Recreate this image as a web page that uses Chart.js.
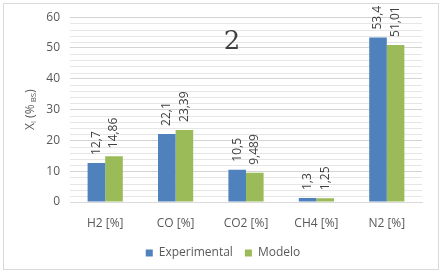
<!DOCTYPE html>
<html>
<head>
<meta charset="utf-8">
<script src="https://cdn.jsdelivr.net/npm/chart.js@4"></script>
<style>
  body { margin: 0; background: #fff; }
  #wrap { width: 445px; height: 271px; position: relative; }
</style>
</head>
<body>
<div id="wrap"><canvas id="chart" width="445" height="271"></canvas></div>
<script>
const categories = ['H2 [%]', 'CO [%]', 'CO2 [%]', 'CH4 [%]', 'N2 [%]'];
const experimental = [12.7, 22.1, 10.5, 1.3, 53.4];
const modelo = [14.86, 23.39, 9.489, 1.25, 51.01];
const experimentalLabels = ['12,7', '22,1', '10,5', '1,3', '53,4'];
const modeloLabels = ['14,86', '23,39', '9,489', '1,25', '51,01'];
const chartTitle = '2';

const FONT = '"Open Sans", "Liberation Sans", sans-serif';

// frame, minor gridlines, title "2", axis title with subscripts and the rotated value labels
const extras = {
  id: 'extras',
  beforeDraw(chart) {
    const ctx = chart.ctx;
    ctx.save();
    ctx.strokeStyle = '#d9d9d9';
    ctx.lineWidth = 1;
    ctx.strokeRect(3.5, 3.5, 435, 266);
    ctx.restore();
  },
  beforeDatasetsDraw(chart) {
    const ctx = chart.ctx;
    const area = chart.chartArea;
    const y = chart.scales.y;
    ctx.save();
    ctx.strokeStyle = '#e6e6e6';
    ctx.lineWidth = 1;
    for (let v = 2; v < 60; v += 2) {
      if (v % 10 === 0) continue;
      const py = Math.round(y.getPixelForValue(v)) + 0.5;
      ctx.beginPath();
      ctx.moveTo(area.left, py);
      ctx.lineTo(area.right, py);
      ctx.stroke();
    }
    ctx.restore();
  },
  afterDatasetsDraw(chart) {
    const ctx = chart.ctx;
    const area = chart.chartArea;
    ctx.save();

    // title inside plot
    ctx.fillStyle = '#404040';
    ctx.font = '26px "DejaVu Serif", "Liberation Serif", serif';
    ctx.textAlign = 'center';
    ctx.textBaseline = 'middle';
    ctx.fillText(chartTitle, 232, 42);

    // value labels
    const labelSets = [experimentalLabels, modeloLabels];
    ctx.font = '12px ' + FONT;
    ctx.fillStyle = '#404040';
    chart.data.datasets.forEach((ds, i) => {
      const meta = chart.getDatasetMeta(i);
      meta.data.forEach((bar, j) => {
        ctx.save();
        ctx.translate(bar.x, bar.y - 8);
        ctx.rotate(-Math.PI / 2);
        ctx.textAlign = 'left';
        ctx.textBaseline = 'middle';
        ctx.fillText(labelSets[i][j], 0, 0);
        ctx.restore();
      });
    });

    // y axis title: X_i (% _BS)
    ctx.save();
    ctx.translate(31, (area.top + area.bottom) / 2);
    ctx.rotate(-Math.PI / 2);
    ctx.fillStyle = '#595959';
    const parts = [
      ['X', 12, 0], ['i', 8, 3], [' (%', 12, 0], [' ', 8, 0], ['BS', 8, 3], [')', 12, 0]
    ];
    let total = 0;
    parts.forEach(p => { ctx.font = p[1] + 'px ' + FONT; total += ctx.measureText(p[0]).width; });
    let x = -total / 2;
    ctx.textBaseline = 'middle';
    ctx.textAlign = 'left';
    parts.forEach(p => {
      ctx.font = p[1] + 'px ' + FONT;
      ctx.fillText(p[0], x, p[2]);
      x += ctx.measureText(p[0]).width;
    });
    ctx.restore();

    ctx.restore();
  }
};

new Chart(document.getElementById('chart'), {
  type: 'bar',
  data: {
    labels: categories,
    datasets: [
      { label: 'Experimental', data: experimental, backgroundColor: '#4f81bd' },
      { label: 'Modelo', data: modelo, backgroundColor: '#9bbb59' }
    ]
  },
  options: {
    responsive: false,
    animation: false,
    layout: { padding: { top: 16, right: 11, left: 12, bottom: 2 } },
    datasets: { bar: { categoryPercentage: 0.5, barPercentage: 1 } },
    plugins: {
      legend: {
        position: 'bottom',
        labels: {
          boxWidth: 7,
          boxHeight: 7,
          padding: 12,
          color: '#595959',
          font: { family: FONT, size: 12 }
        }
      },
      tooltip: { enabled: false }
    },
    scales: {
      x: {
        grid: { display: false },
        border: { color: '#d9d9d9' },
        ticks: { color: '#595959', font: { family: FONT, size: 12 }, padding: 6 },
        afterFit(scale) { scale.height = 33; }
      },
      y: {
        min: 0,
        max: 60,
        border: { display: false },
        grid: {
          drawTicks: false,
          color: '#d4d4d4'
        },
        ticks: {
          stepSize: 10,
          padding: 10,
          color: '#595959',
          font: { family: FONT, size: 12 }
        },
        afterFit(scale) { scale.width = 58; }
      },
      yRight: {
        position: 'right',
        display: true,
        grid: { display: false },
        border: { display: false },
        ticks: { display: false },
        afterFit(scale) { scale.width = 12; }
      }
    }
  },
  plugins: [extras]
});
</script>
</body>
</html>
